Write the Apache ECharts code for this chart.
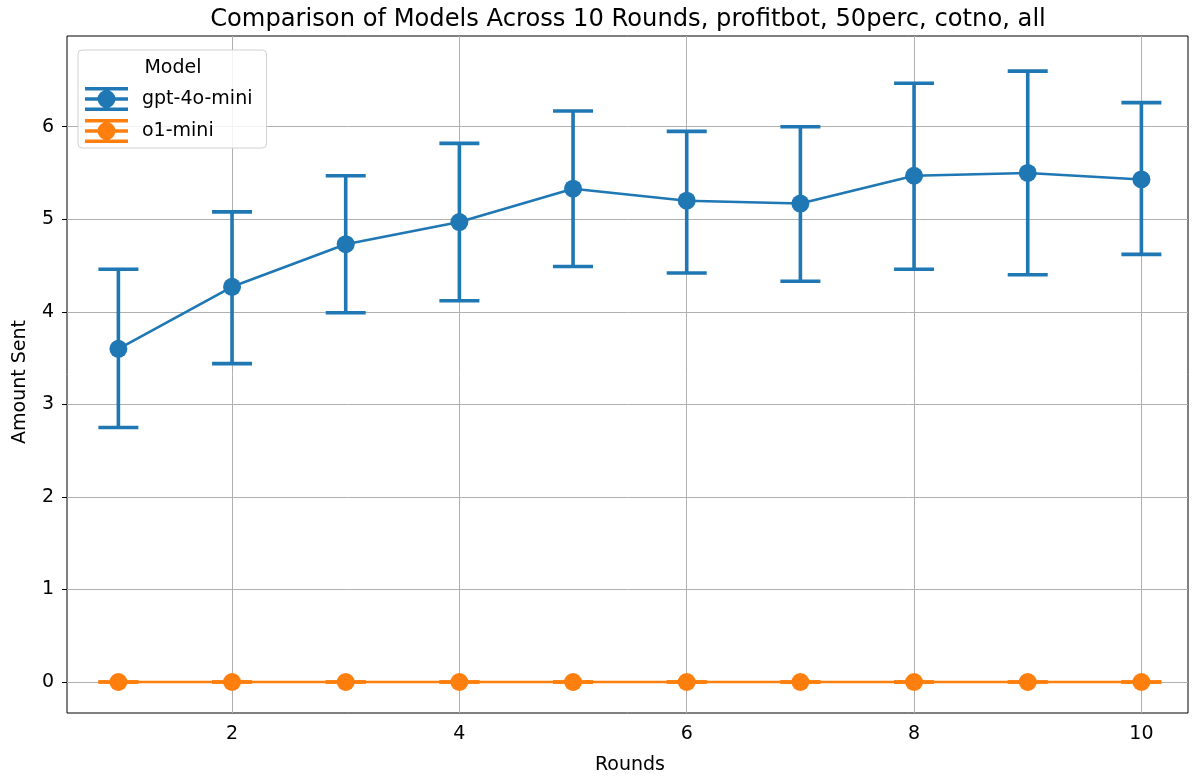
<!DOCTYPE html>
<html><head><meta charset="utf-8">
<script src="https://cdn.jsdelivr.net/npm/echarts@6/dist/echarts.min.js"></script>
<style>html,body{margin:0;padding:0;background:#fff}#c{width:1196px;height:778px}</style>
</head><body><div id="c"></div>
<script>
const rounds = [1, 2, 3, 4, 5, 6, 7, 8, 9, 10];
const gptMean  = [3.60, 4.27, 4.73, 4.97, 5.33, 5.20, 5.17, 5.47, 5.50, 5.43];
const gptLower = [2.75, 3.44, 3.99, 4.12, 4.49, 4.42, 4.33, 4.46, 4.40, 4.62];
const gptUpper = [4.46, 5.08, 5.47, 5.82, 6.17, 5.95, 6.00, 6.47, 6.60, 6.26];
const o1Mean  = [0, 0, 0, 0, 0, 0, 0, 0, 0, 0];
const o1Lower = [0, 0, 0, 0, 0, 0, 0, 0, 0, 0];
const o1Upper = [0, 0, 0, 0, 0, 0, 0, 0, 0, 0];
const xTicks = [2, 4, 6, 8, 10];
const yTicks = [0, 1, 2, 3, 4, 5, 6];
const titleText = 'Comparison of Models Across 10 Rounds, profitbot, 50perc, cotno, all';

const BLUE = '#1f77b4', ORANGE = '#ff7f0e';
const FONT = 'DejaVu Sans';
const FS = 19;
const chart = echarts.init(document.getElementById('c'), null, {renderer: 'canvas'});

function errSeries(name, color, lower, upper) {
  return {
    name: name, type: 'custom', z: 2,
    itemStyle: {color: color},
    encode: {x: 0, y: [1, 2]},
    data: rounds.map((r, i) => [r, lower[i], upper[i]]),
    renderItem: function (params, api) {
      const x = api.value(0), lo = api.value(1), hi = api.value(2);
      const pLo = api.coord([x, lo]), pHi = api.coord([x, hi]);
      const hw = 20;
      const st = {stroke: color, lineWidth: 3.6, lineCap: 'butt'};
      return {type: 'group', children: [
        {type: 'line', shape: {x1: pLo[0], y1: pLo[1], x2: pHi[0], y2: pHi[1]}, style: st},
        {type: 'line', shape: {x1: pLo[0] - hw, y1: pLo[1], x2: pLo[0] + hw, y2: pLo[1]}, style: st},
        {type: 'line', shape: {x1: pHi[0] - hw, y1: pHi[1], x2: pHi[0] + hw, y2: pHi[1]}, style: st}
      ]};
    }
  };
}
function lineSeries(name, color, mean) {
  return {
    name: name, type: 'line', z: 3,
    data: rounds.map((r, i) => [r, mean[i]]),
    symbol: 'circle', symbolSize: 18, showSymbol: true,
    itemStyle: {color: color}, lineStyle: {color: color, width: 2.6}
  };
}
const icon = 'path://M0,0H43V3.4H0Z M0,10.3H43V13.7H0Z M0,20.6H43V24H0Z M19.8,0H23.2V24H19.8Z M12.5,12a9,9 0 1,1 18,0a9,9 0 1,1 -18,0Z';

const option = {
  animation: false,
  backgroundColor: '#fff',
  textStyle: {fontFamily: FONT},
  grid: {left: 67, right: 8, top: 36, bottom: 65, show: true, borderColor: '#000', borderWidth: 1, backgroundColor: 'transparent'},
  legend: {
    left: 78, top: 50, orient: 'vertical',
    data: [{name: 'gpt-4o-mini', icon: icon}, {name: 'o1-mini', icon: icon}],
    itemWidth: 43, itemHeight: 24, itemGap: 8,
    padding: [37, 14, 5, 7],
    backgroundColor: 'rgba(255,255,255,0.85)', borderColor: '#d0d0d0', borderWidth: 1, borderRadius: 4,
    textStyle: {fontFamily: FONT, fontSize: FS, color: '#000', padding: [0, 0, 0, 9]}
  },
  xAxis: {
    type: 'value', min: 0.548, max: 10.41, interval: 2,
    axisLine: {show: false},
    axisTick: {show: true, length: 5, lineStyle: {color: '#000'}, customValues: xTicks},
    axisLabel: {color: '#000', fontFamily: FONT, fontSize: FS, margin: 12, customValues: xTicks, formatter: v => String(v)},
    splitLine: {show: true, lineStyle: {color: '#b0b0b0', width: 1}}
  },
  yAxis: {
    type: 'value', min: -0.335, max: 6.98, interval: 1,
    axisLine: {show: false},
    axisTick: {show: true, length: 5, lineStyle: {color: '#000'}, customValues: yTicks},
    axisLabel: {color: '#000', fontFamily: FONT, fontSize: FS, margin: 13, customValues: yTicks, formatter: v => String(v)},
    splitLine: {show: true, lineStyle: {color: '#b0b0b0', width: 1}}
  },
  graphic: [
    {type: 'text', x: 628, y: 20, style: {text: titleText, fontFamily: FONT, fontSize: 24.2, fill: '#000', align: 'center', verticalAlign: 'middle'}},
    {type: 'text', x: 630, y: 765, style: {text: 'Rounds', fontFamily: FONT, fontSize: FS, fill: '#000', align: 'center', verticalAlign: 'middle'}},
    {type: 'text', x: 20, y: 382, rotation: Math.PI / 2, style: {text: 'Amount Sent', fontFamily: FONT, fontSize: FS, fill: '#000', align: 'center', verticalAlign: 'middle'}},
    {type: 'text', x: 173, y: 68, z: 100, style: {text: 'Model', fontFamily: FONT, fontSize: FS, fill: '#000', align: 'center', verticalAlign: 'middle'}}
  ],
  series: [
    errSeries('gpt-4o-mini', BLUE, gptLower, gptUpper),
    lineSeries('gpt-4o-mini', BLUE, gptMean),
    errSeries('o1-mini', ORANGE, o1Lower, o1Upper),
    lineSeries('o1-mini', ORANGE, o1Mean)
  ]
};
chart.setOption(option);
</script></body></html>
